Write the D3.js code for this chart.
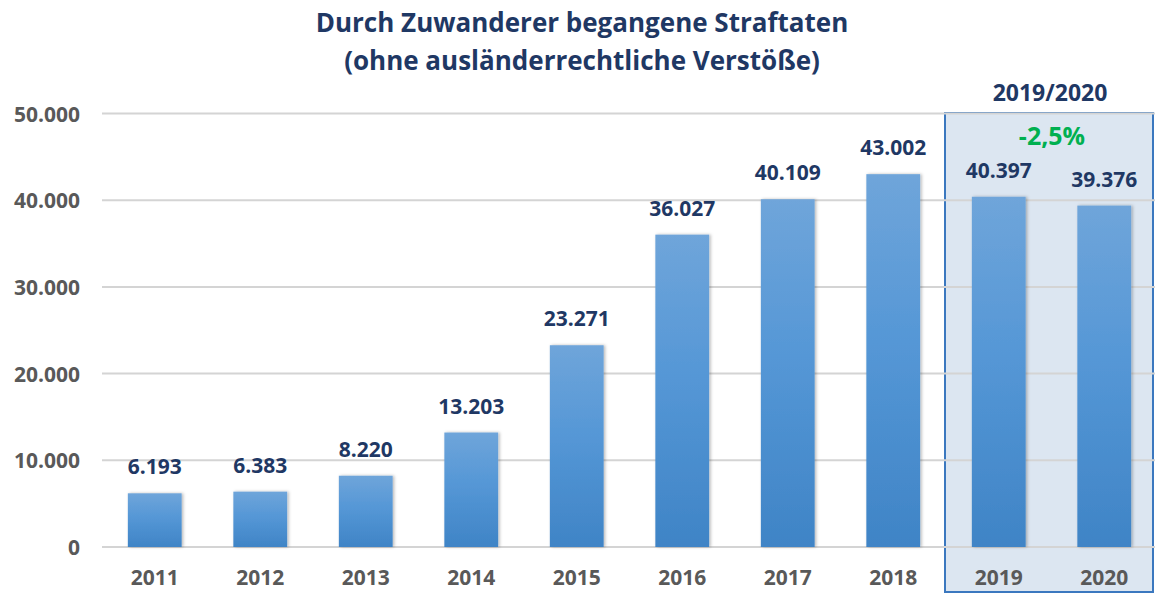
<!DOCTYPE html>
<html>
<head>
<meta charset="utf-8">
<script src="https://cdn.jsdelivr.net/npm/d3@7/dist/d3.min.js"></script>
<style>
  html, body { margin: 0; padding: 0; background: #fff; }
  svg { display: block; font-family: "Open Sans", Lato, sans-serif; }
</style>
</head>
<body>
<svg id="chart" width="1155" height="594"></svg>
<script>
// Straftaten durch Zuwanderer, 2011–2020
const years = ["2011", "2012", "2013", "2014", "2015", "2016", "2017", "2018", "2019", "2020"];
const cases = [6193, 6383, 8220, 13203, 23271, 36027, 40109, 43002, 40397, 39376];
const yTicks = [0, 10000, 20000, 30000, 40000, 50000];
const titleLines = ["Durch Zuwanderer begangene Straftaten", "(ohne ausländerrechtliche Verstöße)"];
const highlightYears = ["2019", "2020"];
const highlightLabel = "2019/2020";
const changeLabel = "-2,5%";

const svg = d3.select("#chart");
const fmt = v => v === 0 ? "0" : d3.format(",")(v).replace(/,/g, ".");

const x = d3.scaleBand().domain(years).range([102, 1157]).paddingInner(0.49).paddingOuter(0.245);
const y = d3.scaleLinear().domain([0, 50000]).range([547, 113.5]);

const defs = svg.append("defs");
const grad = defs.append("linearGradient").attr("id", "barGrad")
  .attr("x1", 0).attr("y1", 0).attr("x2", 0).attr("y2", 1);
grad.append("stop").attr("offset", "0%").attr("stop-color", "#6fa5da");
grad.append("stop").attr("offset", "45%").attr("stop-color", "#5597d6");
grad.append("stop").attr("offset", "100%").attr("stop-color", "#3f84c6");
const shadow = defs.append("filter").attr("id", "barShadow")
  .attr("x", "-20%").attr("y", "-5%").attr("width", "140%").attr("height", "110%");
shadow.append("feDropShadow").attr("dx", 1.5).attr("dy", 0).attr("stdDeviation", 1.6)
  .attr("flood-color", "#000").attr("flood-opacity", 0.28);

// highlighted period panel
const hx0 = x(highlightYears[0]) - x.step() * x.paddingInner() / 2 - 1;
svg.append("rect")
  .attr("x", hx0).attr("y", 113)
  .attr("width", 1153 - hx0).attr("height", 479)
  .attr("fill", "#dce6f1").attr("stroke", "#3b78bf").attr("stroke-width", 2);

// grid
svg.append("g").selectAll("line").data(yTicks).join("line")
  .attr("x1", 102).attr("x2", 1155)
  .attr("y1", d => y(d)).attr("y2", d => y(d))
  .attr("stroke", "#d4d4d4").attr("stroke-width", 2);

// y axis labels
const yAxis = d3.axisLeft(y).tickValues(yTicks).tickFormat(fmt).tickSize(0).tickPadding(0);
const yg = svg.append("g").attr("transform", "translate(80,0)").call(yAxis);
yg.select(".domain").remove();
yg.selectAll("text").attr("fill", "#595959").attr("font-size", 21).attr("font-weight", 700)
  .attr("font-family", "'Open Sans', sans-serif").attr("dy", "0.36em");

// x axis labels
const xAxis = d3.axisBottom(x).tickSize(0).tickPadding(0);
const xg = svg.append("g").attr("transform", "translate(0,570)").call(xAxis);
xg.select(".domain").remove();
xg.selectAll("text").attr("fill", "#595959").attr("font-size", 21).attr("font-weight", 700)
  .attr("font-family", "'Open Sans', sans-serif").attr("dy", "0.71em");

// bars
svg.append("g").selectAll("rect").data(years).join("rect")
  .attr("x", d => x(d)).attr("width", x.bandwidth())
  .attr("y", (d, i) => y(cases[i])).attr("height", (d, i) => y(0) - y(cases[i]))
  .attr("fill", "url(#barGrad)").attr("filter", "url(#barShadow)");

// value labels
svg.append("g").selectAll("text").data(years).join("text")
  .attr("x", d => x(d) + x.bandwidth() / 2)
  .attr("y", (d, i) => y(cases[i]) - 19)
  .attr("text-anchor", "middle")
  .attr("fill", "#1f3864").attr("font-size", 21).attr("font-weight", 700)
  .text((d, i) => fmt(cases[i]));

// panel captions
svg.append("text").attr("x", 1050).attr("y", 101).attr("text-anchor", "middle")
  .attr("fill", "#1f3864").attr("font-size", 23).attr("font-weight", 700).text(highlightLabel);
svg.append("text").attr("x", 1052).attr("y", 145).attr("text-anchor", "middle")
  .attr("fill", "#00b050").attr("font-size", 25).attr("font-weight", 700).text(changeLabel);

// title
svg.append("g").selectAll("text").data(titleLines).join("text")
  .attr("x", 582).attr("y", (d, i) => 32 + i * 38)
  .attr("text-anchor", "middle")
  .attr("fill", "#1f3864").attr("font-size", 26).attr("font-weight", 700)
  .text(d => d);
</script>
</body>
</html>
